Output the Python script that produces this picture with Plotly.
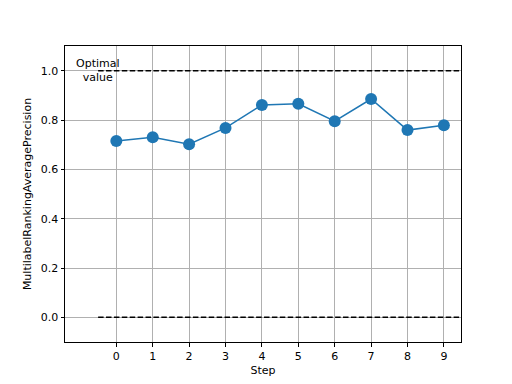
import plotly.graph_objects as go

steps = [0, 1, 2, 3, 4, 5, 6, 7, 8, 9]
precision = [0.715, 0.730, 0.702, 0.768, 0.861, 0.866, 0.795, 0.885, 0.759, 0.779]
optimal_levels = [1.0, 0.0]
ref_x_span = [-0.5, 9.5]
y_ticks = [0.0, 0.2, 0.4, 0.6, 0.8, 1.0]

fig = go.Figure()
for lvl in optimal_levels:
    fig.add_trace(go.Scatter(
        x=ref_x_span, y=[lvl, lvl], mode="lines",
        line=dict(color="black", width=1.5, dash="5.5px,2.4px"),
        showlegend=False, hoverinfo="skip"))

fig.add_trace(go.Scatter(
    x=steps, y=precision, mode="lines+markers",
    line=dict(color="#1f77b4", width=1.5),
    marker=dict(color="#1f77b4", size=12),
    showlegend=False))

fig.add_annotation(x=-0.5, y=optimal_levels[0], text="Optimal<br>value",
                   showarrow=False, xanchor="center", yanchor="middle",
                   align="center", font=dict(size=11, color="black"))

axis_common = dict(
    showline=True, linecolor="black", linewidth=1, mirror=True,
    ticks="outside", ticklen=3.5, tickcolor="black", tickwidth=1,
    showgrid=True, gridcolor="#b0b0b0", gridwidth=1, zeroline=False,
    tickfont=dict(size=11, color="black"),
)

fig.update_layout(
    width=512, height=384,
    margin=dict(l=57, r=59, t=38, b=50),
    paper_bgcolor="white", plot_bgcolor="white",
    font=dict(family="DejaVu Sans", size=11, color="black"),
    xaxis=dict(range=[-1.41, 9.47], tickvals=steps,
               title=dict(text="Step", font=dict(size=11), standoff=4),
               **axis_common),
    yaxis=dict(range=[-0.1, 1.1], tickvals=y_ticks, tickformat=".1f",
               title=dict(text="MultilabelRankingAveragePrecision", font=dict(size=11), standoff=6),
               **axis_common),
)

fig.write_html("out.html")
